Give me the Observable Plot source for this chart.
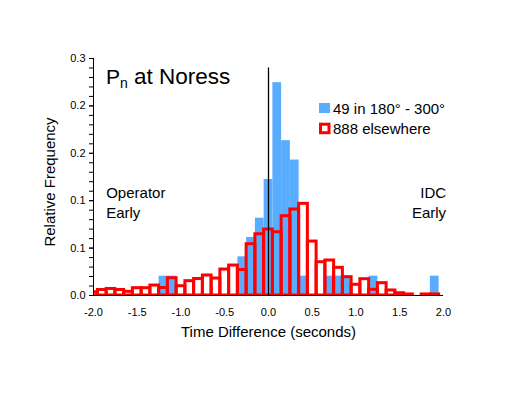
<!DOCTYPE html>
<html><head><meta charset="utf-8">
<script src="https://cdn.jsdelivr.net/npm/d3@7"></script>
<script src="https://cdn.jsdelivr.net/npm/@observablehq/plot@0.6"></script>
<style>
html,body{margin:0;padding:0;background:#fff;}
#chart{width:509px;height:393px;}
</style></head><body><div id="chart"></div>
<script>
// Bin centres (seconds), bin width 0.1
const binCenters = [-2.0,-1.9,-1.8,-1.7,-1.6,-1.5,-1.4,-1.3,-1.2,-1.1,
  -1.0,-0.9,-0.8,-0.7,-0.6,-0.5,-0.4,-0.3,-0.2,-0.1,
  0.0,0.1,0.2,0.3,0.4,0.5,0.6,0.7,0.8,0.9,
  1.0,1.1,1.2,1.3,1.4,1.5,1.6,1.7,1.8,1.9];
// 49 in 180°-300° (relative frequency)
const blueFreq = [0,0,0,0,0,0,0,0,0.0204,0.0204,
  0,0,0,0,0,0,0,0.0408,0.0612,0.0816,
  0.1224,0.2245,0.1633,0.1429,0.0204,0,0,0.0204,0.0204,0.0204,
  0,0,0.0204,0,0,0,0,0,0,0.0204];
// 888 elsewhere (relative frequency)
const redFreq = [0.0034,0.0058,0.0069,0.0058,0.0039,0.0077,0.0077,0.0105,0.0079,0.0182,
  0.0098,0.0151,0.0174,0.0211,0.0179,0.0274,0.0316,0.0269,0.0541,0.0646,
  0.0696,0.0667,0.0836,0.0907,0.0967,0.0569,0.0351,0.0369,0.0292,0.0193,
  0.0113,0.0172,0.0060,0.0130,0.0053,0.0024,0.0011,0,0.0011,0.0011];
const seriesNames = ["49 in 180° - 300°", "888 elsewhere"];
const xTicks = [-2.0,-1.5,-1.0,-0.5,0.0,0.5,1.0,1.5,2.0];
const xTickLabels = ["-2.0","-1.5","-1.0","-0.5","0.0","0.5","1.0","1.5","2.0"];
const yTicks = [0,0.05,0.10,0.15,0.20,0.25];
const yTickLabels = ["0.0","0.1","0.1","0.2","0.2","0.3"];
const yMinorTicks = [0,0.01,0.02,0.03,0.04,0.05,0.06,0.07,0.08,0.09,0.10,0.11,0.12,0.13,0.14,0.15,0.16,0.17,0.18,0.19,0.20,0.21,0.22,0.23,0.24,0.25];
const markerX = [0];

const half = 0.05;
const blueData = binCenters.map((c,i)=>({x1:c-half,x2:c+half,y:blueFreq[i]})).filter(d=>d.y>0);
const redData = binCenters.map((c,i)=>({x1:c-half,x2:c+half,y:redFreq[i]})).filter(d=>d.y>0);

const BLUE = "#5aacff", RED = "#ff0000";
const FONT = "'Liberation Sans', Arial, Helvetica, sans-serif";

const chart = Plot.plot({
  width: 509, height: 393,
  marginLeft: 93, marginRight: 66, marginTop: 58, marginBottom: 98,
  style: {fontFamily: FONT, fontSize: "11px", background: "#fff", color: "#000"},
  x: {domain: [-2, 2]},
  y: {domain: [0, 0.25]},
  marks: [
    Plot.rect(blueData, {x1:"x1", x2:"x2", y1:0, y2:"y", fill: BLUE, inset: 0, clip: true}),
    Plot.ruleY([0], {stroke: "#000"}),
    Plot.rect(redData, {x1:"x1", x2:"x2", y1:0, y2:"y", fill: "none", stroke: RED, strokeWidth: 3, inset: 0, clip: true}),
    Plot.ruleX(markerX, {y1: 0, y2: 0.24, stroke: "#000", strokeWidth: 1.3}),
    Plot.ruleX([-2], {y1: 0, y2: 0.25, stroke: "#000", strokeWidth: 1}),
    Plot.axisY(yMinorTicks, {tickSize: 4, tickFormat: () => "", label: null}),
    Plot.axisY(yTicks, {tickSize: 4, tickPadding: 4, tickFormat: d => yTickLabels[yTicks.indexOf(d)], label: null, fontSize: 11}),
    Plot.axisX(xTicks, {tickSize: 0, tickPadding: 13, tickFormat: d => xTickLabels[xTicks.indexOf(d)], label: null, fontSize: 11}),
    Plot.text(["Time Difference (seconds)"], {frameAnchor: "bottom", dy: 37, textAnchor: "middle", lineAnchor: "middle", fontSize: 15}),
    Plot.text(["Relative Frequency"], {frameAnchor: "left", dx: -43, dy: 5, rotate: -90, textAnchor: "middle", lineAnchor: "middle", fontSize: 15}),
    Plot.text(["Operator\nEarly"], {x: -1.855, y: 0.1166, textAnchor: "start", lineAnchor: "top", lineHeight: 1.27, fontSize: 15}),
    Plot.text(["IDC\nEarly"], {x: 2.03, y: 0.1166, textAnchor: "end", lineAnchor: "top", lineHeight: 1.27, fontSize: 15})
  ]
});

const svg = d3.select(chart);
// Title with subscript
const t = svg.append("text").attr("x", 106).attr("y", 84).attr("text-anchor", "start")
  .attr("font-family", FONT).attr("font-size", 21).attr("fill", "#000");
t.append("tspan").text("P");
t.append("tspan").attr("font-size", 14).attr("dy", 4).text("n");
t.append("tspan").attr("dy", -4).attr("font-size", 22.5).text(" at Noress");

// Legend
const lg = svg.append("g").attr("font-family", FONT).attr("font-size", 15).attr("fill", "#000").attr("text-anchor", "start");
lg.append("rect").attr("x", 319).attr("y", 103).attr("width", 11).attr("height", 10).attr("fill", BLUE);
lg.append("text").attr("x", 333).attr("y", 114).text(seriesNames[0]);
lg.append("rect").attr("x", 320.5).attr("y", 124.2).attr("width", 8.5).attr("height", 8.5)
  .attr("fill", "#fff").attr("stroke", RED).attr("stroke-width", 3);
lg.append("text").attr("x", 333).attr("y", 133.5).text(seriesNames[1]);

document.getElementById("chart").appendChild(chart);
</script>
</body></html>
